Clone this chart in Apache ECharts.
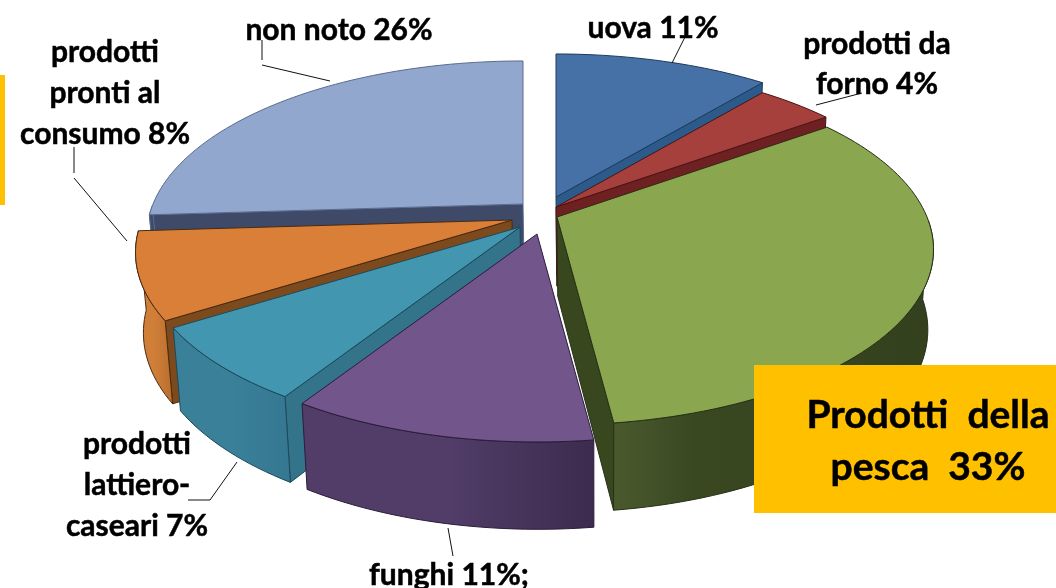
<!DOCTYPE html>
<html><head><meta charset="utf-8">
<style>html,body{margin:0;padding:0;background:#fff}#c{width:1056px;height:588px}</style>
<script src="https://cdn.jsdelivr.net/npm/echarts@6/dist/echarts.min.js"></script>
</head><body><div id="c"></div>
<script>
// ---- data ----
const categories = ['uova','prodotti da forno','Prodotti della pesca','funghi','prodotti lattiero-caseari','prodotti pronti al consumo','non noto'];
const shares = [11, 4, 33, 11, 7, 8, 26];
const labelLines = [
  ['uova 11%'],
  ['prodotti da','forno 4%'],
  ['Prodotti  della','pesca  33%'],
  ['funghi 11%;'],
  ['prodotti','lattiero-','caseari 7%'],
  ['prodotti','pronti al','consumo 8%'],
  ['non noto 26%']
];
// ---- styling / layout (not data) ----
const topColors = ['#4671A6','#A5403D','#8AA64F','#71558B','#4296B0','#D97F38','#92A7CE'];
const cutColors = ['#2C5A8A','#6F2020','#39471F','#3A2B4E','#34748A','#7D4A1E','#3E4A68'];
const rimStops  = [['#3A6090','#2C4E78'],['#8A3532','#6F2020'],['#4A5A2D','#33401D'],['#513D68','#3C2B4E'],['#3A8099','#357790'],['#D07F38','#B86E2E'],['#3E4A68','#3E4A68']];
const edgeColors = ['#1E3A5C','#4A1414','#26301A','#2A1C3A','#1A4A5C','#4A2A10','#5A6C90'];
const apexes = [[556,197],[556,207],[557,217],[537,234],[520,227],[512,220],[523,204]];
const paintOrder = [6,0,1,5,2,4,3];
const P = 0.185, QY = 169.5, FX = 370, START = -90;
const VANISH_X = 600, SHRINK = 0.017, DEPTH = 79, DEPTH_K = 0.04;
const total = shares.reduce((a,b)=>a+b,0);
const startAngles = []; shares.reduce((acc,v,i)=>{startAngles[i]=acc; return acc+v/total*360;}, START);

function rimPoint(i, deg){
  const a = deg*Math.PI/180, X = Math.cos(a), Y = Math.sin(a), d = 1-P*Y;
  return [apexes[i][0]+FX*X/d, apexes[i][1]+QY*Y/d];
}
function lower(i, p){
  return [p[0]+(VANISH_X-p[0])*SHRINK, p[1]+DEPTH+DEPTH_K*(p[1]-apexes[i][1])];
}
function renderSlice(params, api){
  const i = api.value(0), rank = paintOrder.indexOf(i);
  const a0 = startAngles[i], sweep = shares[i]/total*360, a1 = a0+sweep;
  const arc = [];
  const n = Math.max(4, Math.ceil(sweep/1.5));
  for(let k=0;k<=n;k++) arc.push(rimPoint(i, a0+sweep*k/n));
  const apex = apexes[i], ln = edgeColors[i];
  const face = (pts, fill, z)=>({type:'polygon', shape:{points:pts}, z2:rank*10+z,
     style:{fill:fill, stroke:ln, lineWidth:1, lineJoin:'round'}});
  const rad = d=>d*Math.PI/180;
  const children = [];
  // cut faces whose outward normal points towards the viewer
  if(Math.cos(rad(a0))<-0.001) children.push(face([apex,arc[0],lower(i,arc[0]),lower(i,apex)], cutColors[i], 1));
  if(Math.cos(rad(a1))> 0.001) children.push(face([apex,arc[n],lower(i,arc[n]),lower(i,apex)], cutColors[i], 2));
  // outer wall: only the front-facing part of the arc
  const front = [];
  for(let k=0;k<=n;k++){ const s=Math.sin(rad(a0+sweep*k/n)); if(s>0) front.push(arc[k]); }
  if(front.length>1){
    const grad = new echarts.graphic.LinearGradient(0,0,1,0,[
      {offset:0,color:rimStops[i][0]},{offset:i===2?0.25:0.5,color:i===2?'#3A4822':rimStops[i][0]},{offset:1,color:rimStops[i][1]}]);
    children.push(face(front.concat(front.map(p=>lower(i,p)).reverse()), grad, 3));
  }
  children.push(face([apex].concat(arc), topColors[i], 4));
  return {type:'group', children};
}
const font = '"Lato","Carlito",sans-serif';
const labelSpec = [
  {i:0, x:653, y:28, lh:41, size:30},
  {i:1, x:877, y:64, lh:40, size:30},
  {i:3, x:449, y:575, lh:41, size:30},
  {i:4, x:137, y:485, lh:41, size:30},
  {i:5, x:105, y:93, lh:41, size:30},
  {i:6, x:339, y:30, lh:41, size:30}
];
const leaders = [
  [[686,35],[672,63]],
  [[862,93],[816,105]],
  [[448,528],[453,556]],
  [[188,500],[210,500],[237,462]],
  [[74,147],[74,173]],[[74,178],[127,241]],
  [[262,40],[262,60]],[[262,65],[330,81]]
];
const graphics = [
  {type:'rect', z:100, shape:{x:0,y:75,width:5,height:130}, style:{fill:'#FFC000'}},
  {type:'rect', z:100, shape:{x:754,y:365,width:302,height:148}, style:{fill:'#FFC000'}},
  {type:'text', z:101, x:928, y:415, style:{text:labelLines[2][0], font:'bold 39px '+font, fill:'#000', stroke:'#000', lineWidth:0.5, align:'center', verticalAlign:'middle'}},
  {type:'text', z:101, x:928, y:467, style:{text:labelLines[2][1], font:'bold 39px '+font, fill:'#000', stroke:'#000', lineWidth:0.5, align:'center', verticalAlign:'middle'}}
];
leaders.forEach(pts=>graphics.push({type:'polyline', z:100, shape:{points:pts}, style:{stroke:'#111', lineWidth:1, fill:null}}));
labelSpec.forEach(s=>{
  const ls = labelLines[s.i], h = s.lh*(ls.length-1);
  ls.forEach((t,k)=>graphics.push({type:'text', z:101, x:s.x, y:s.y-h/2+k*s.lh,
    style:{text:t, font:'bold '+s.size+'px '+font, fill:'#000', stroke:'#000', lineWidth:0.5, align:'center', verticalAlign:'middle'}}));
});

const chart = echarts.init(document.getElementById('c'), null, {renderer:'canvas'});
chart.setOption({
  animation:false,
  backgroundColor:'#fff',
  graphic:{elements:graphics},
  series:[{
    type:'custom', coordinateSystem:'none', silent:true, animation:false,
    data: paintOrder.map(i=>({name:categories[i], value:[i, shares[i]]})),
    renderItem: renderSlice
  }]
});
</script></body></html>
